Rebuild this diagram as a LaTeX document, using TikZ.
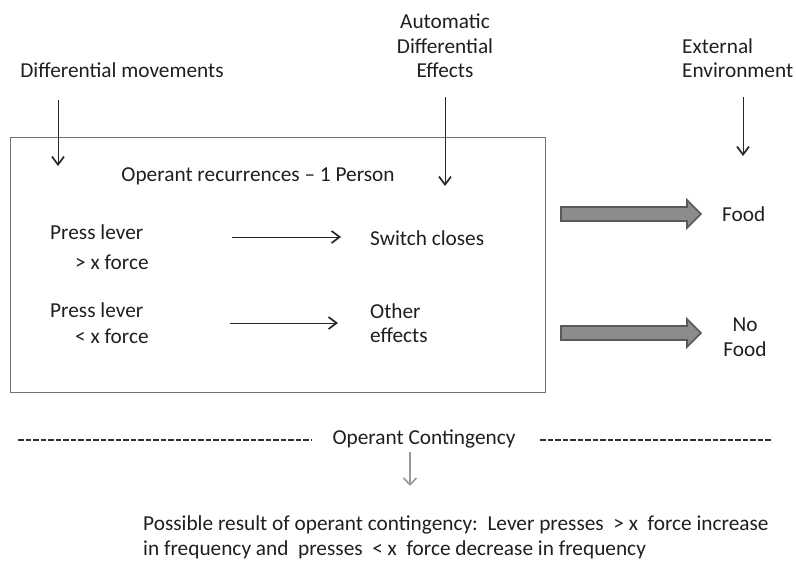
\documentclass[tikz,border=0pt]{standalone}
\usepackage{fontspec}
\setmainfont{Carlito}
\usetikzlibrary{arrows.meta}
\begin{document}
\begin{tikzpicture}[x=1pt,y=-1pt,
  lbl/.style={font=\fontsize{21.3}{24.5}\selectfont, text=black!88, inner sep=0pt},
  thin arrow/.style={-{Straight Barb[length=8pt,width=12pt,line width=1.7pt]}, line width=1pt, black!85},
  fat/.style={draw=black!65, fill=black!45, line width=1.6pt, line join=miter}]
\useasboundingbox (0,0) rectangle (796,562);
% box
\node[draw=black!55, line width=0.8pt, minimum width=535pt, minimum height=255pt, inner sep=0pt] (box) at (277.5,264.5) {};
% top labels
\node[lbl] (dm) at (122,70) {Differential movements};
\coordinate (dmA) at (58,100);
\coordinate (dmB) at (58,166);
\draw[thin arrow] (dmA) -- (dmB);
\node[lbl, align=center] (ade) at (445,46) {Automatic\\Differential\\Effects};
\coordinate (adeA) at (445,97);
\coordinate (adeB) at (445,186);
\draw[thin arrow] (adeA) -- (adeB);
\node[lbl, align=left, anchor=west] (ee) at (682,58) {External\\Environment};
\coordinate (eeA) at (743,97);
\coordinate (eeB) at (743,156);
\draw[thin arrow] (eeA) -- (eeB);
% inside box
\node[lbl] (orp) at (258,176) {Operant recurrences -- 1 Person};
\node[lbl, anchor=west] (pl1) at (50,232) {Press lever};
\node[lbl, anchor=west] (f1) at (75,262) {> x force};
\node[lbl, anchor=west] (sc) at (370,238) {Switch closes};
\coordinate (a1s) at (232,237);
\coordinate (a1e) at (341,237);
\draw[thin arrow] (a1s) -- (a1e);
\node[lbl, anchor=west] (pl2) at (50,310) {Press lever};
\node[lbl, anchor=west] (f2) at (75,336) {< x force};
\node[lbl, anchor=west, align=left] (oe) at (370,323) {Other\\effects};
\coordinate (a2s) at (230,323);
\coordinate (a2e) at (338,323);
\draw[thin arrow] (a2s) -- (a2e);
% fat arrows
\foreach \yy/\nm in {214/fa1, 333/fa2}{
  \draw[fat] (561,\yy-7) -- (687,\yy-7) -- (687,\yy-14) -- (701,\yy) -- (687,\yy+14) -- (687,\yy+7) -- (561,\yy+7) -- cycle;
}
\node[lbl, anchor=west] (food) at (722,214) {Food};
\node[lbl, align=center] (nofood) at (745,337) {No\\Food};
% contingency
\node[lbl] (oc) at (424,439) {Operant Contingency};
\coordinate (d1a) at (18,440);
\coordinate (d1b) at (312,440);
\coordinate (d2a) at (540,440);
\coordinate (d2b) at (772,440);
\draw[black!80, line width=1.4pt, dash pattern=on 5.5pt off 2pt] (d1a) -- (d1b);
\draw[black!80, line width=1.4pt, dash pattern=on 5.5pt off 2pt] (d2a) -- (d2b);
\coordinate (octop) at (410,452);
\coordinate (ocb) at (410,486);
\draw[-{Straight Barb[length=7pt,width=13pt,line width=1.6pt]}, line width=1.2pt, black!40] (octop) -- (ocb);
\node[lbl, align=left, anchor=west] (res) at (143,537.5) {Possible result of operant contingency:\ \ Lever presses\ \ > x\ \ force increase\\in frequency and\ \ presses\ \ < x\ \ force decrease in frequency};
\end{tikzpicture}
\end{document}
